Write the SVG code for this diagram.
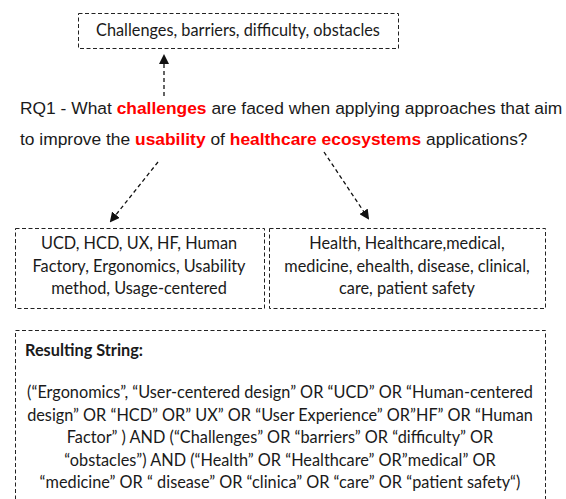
<svg xmlns="http://www.w3.org/2000/svg" width="566" height="499" viewBox="0 0 566 499">
<defs>
<style>
.box{fill:#fff;stroke:#222;stroke-width:1;stroke-dasharray:4 2.5}
.t{font-family:Lato,"Liberation Sans",sans-serif;font-size:16.3px;fill:#1a1a1a;text-anchor:middle}
.q{font-family:"Liberation Sans",Arial,sans-serif;font-size:17.4px;fill:#1a1a1a}
.r{fill:#ff0000;font-weight:bold}
.c{fill:none;stroke:#111;stroke-width:1.3;stroke-dasharray:4 3}
</style>
<marker id="ah" markerWidth="10" markerHeight="10" refX="8" refY="5" orient="auto" markerUnits="userSpaceOnUse">
<path d="M0,0 L10,5 L0,10 z" fill="#111"/>
</marker>
</defs>
<rect width="566" height="499" fill="#fff"/>
<g id="connectors">
<line class="c" x1="164" y1="96" x2="164" y2="56" marker-end="url(#ah)"/>
<line class="c" x1="158" y1="162" x2="111" y2="221" marker-end="url(#ah)"/>
<line class="c" x1="324" y1="152" x2="368" y2="218" marker-end="url(#ah)"/>
</g>
<g id="top">
<rect class="box" x="78.5" y="13.5" width="320" height="35"/>
<text class="t" x="238" y="36">Challenges, barriers, difficulty, obstacles</text>
</g>
<g id="question">
<text class="q" x="20" y="114">RQ1 - What <tspan class="r">challenges</tspan> are faced when applying approaches that aim</text>
<text class="q" x="20" y="145">to improve the <tspan class="r">usability</tspan> of <tspan class="r">healthcare ecosystems</tspan> applications?</text>
</g>
<g id="approaches">
<rect class="box" x="15.5" y="228.5" width="249" height="80"/>
<text class="t" x="139" y="249">UCD, HCD, UX, HF, Human</text>
<text class="t" x="139" y="271.5">Factory, Ergonomics, Usability</text>
<text class="t" x="139" y="294">method, Usage-centered</text>
</g>
<g id="domain">
<rect class="box" x="269.5" y="228.5" width="276" height="80"/>
<text class="t" x="407" y="249">Health, Healthcare,medical,</text>
<text class="t" x="407" y="271.5">medicine, ehealth, disease, clinical,</text>
<text class="t" x="407" y="294">care, patient safety</text>
</g>
<g id="result">
<rect class="box" x="15.5" y="330.5" width="530" height="172"/>
<text class="t" x="25" y="356" style="text-anchor:start;font-weight:bold">Resulting String:</text>
<text class="t" x="280" y="398">(“Ergonomics”, “User-centered design” OR “UCD” OR “Human-centered</text>
<text class="t" x="280" y="420.5">design” OR “HCD” OR” UX” OR “User Experience” OR”HF” OR “Human</text>
<text class="t" x="280" y="443">Factor” ) AND (“Challenges” OR “barriers” OR “difficulty” OR</text>
<text class="t" x="280" y="465.5">“obstacles”) AND (“Health” OR “Healthcare” OR”medical” OR</text>
<text class="t" x="280" y="488">“medicine” OR “ disease” OR “clinica” OR “care” OR “patient safety“)</text>
</g>
</svg>
